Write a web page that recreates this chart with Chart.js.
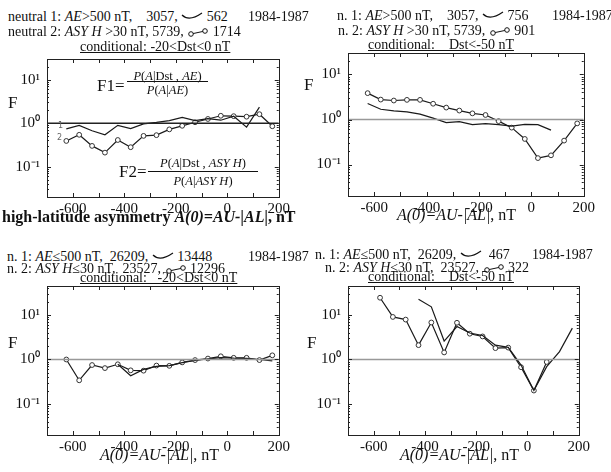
<!DOCTYPE html>
<html>
<head>
<meta charset="utf-8">
<script src="https://cdn.jsdelivr.net/npm/chart.js@4.4.1/dist/chart.umd.min.js"></script>
<style>
  body { margin: 0; width: 611px; height: 472px; background: #fff; position: relative; overflow: hidden;
         font-family: 'Liberation Serif', 'Times New Roman', serif; color: #111; }
  canvas { position: absolute; }
  .t { position: absolute; white-space: pre; font-size: 14px; line-height: 14px; }
  .u { text-decoration: underline; }
  .ax { position: absolute; white-space: pre; font-size: 16px; line-height: 16px; }
  .F { position: absolute; font-size: 17px; line-height: 17px; }
  .fr { position: absolute; font-size: 12.5px; line-height: 12px; text-align: center; white-space: pre; }
  .bar { position: absolute; height: 1px; background: #111; }
  .tag { position: absolute; font-family: 'DejaVu Sans', sans-serif; font-size: 8px; line-height: 8px; color: #666; }
  svg { vertical-align: -1px; }
</style>
</head>
<body>
<canvas id="p1" width="290" height="180" style="left:3px;top:43px"></canvas>
<canvas id="p2" width="294" height="185" style="left:304px;top:37px"></canvas>
<canvas id="p3" width="290" height="191" style="left:3px;top:270px"></canvas>
<canvas id="p4" width="289" height="191" style="left:304px;top:270px"></canvas>

<!-- panel 1 heading -->
<div class="t" style="left:8px;top:10px">neutral 1: <i>AE</i>&gt;500 nT,    3057, <svg width="22" height="10"><path d="M1 3 Q8 10 21 1" fill="none" stroke="#111" stroke-width="1.2"/></svg> 562</div>
<div class="t" style="left:248px;top:10px">1984-1987</div>
<div class="t" style="left:8px;top:25px">neutral 2: <i>ASY H</i> &gt;30 nT, 5739, <svg width="22" height="10"><line x1="4" y1="7" x2="18" y2="4" stroke="#111"/><circle cx="4" cy="7" r="2.3" fill="#fff" stroke="#111"/><circle cx="18" cy="4" r="2.3" fill="#fff" stroke="#111"/></svg> 1714</div>
<div class="t u" style="left:80px;top:40px">conditional: -20&lt;Dst&lt;0 nT</div>

<!-- panel 2 heading -->
<div class="t" style="left:337px;top:9px">n. 1: <i>AE</i>&gt;500 nT,    3057, <svg width="22" height="10"><path d="M1 3 Q8 10 21 1" fill="none" stroke="#111" stroke-width="1.2"/></svg> 756</div>
<div class="t" style="left:552px;top:9px">1984-1987</div>
<div class="t" style="left:338px;top:24px">n. 2: <i>ASY H</i> &gt;30 nT, 5739, <svg width="22" height="10"><line x1="4" y1="7" x2="18" y2="4" stroke="#111"/><circle cx="4" cy="7" r="2.3" fill="#fff" stroke="#111"/><circle cx="18" cy="4" r="2.3" fill="#fff" stroke="#111"/></svg> 901</div>
<div class="t u" style="left:368px;top:38px">conditional:    Dst&lt;-50 nT</div>

<!-- panel 3 heading -->
<div class="t" style="left:7px;top:250px">n. 1: <i>AE</i>≤500 nT,  26209, <svg width="22" height="10"><path d="M1 3 Q8 10 21 1" fill="none" stroke="#111" stroke-width="1.2"/></svg> 13448</div>
<div class="t" style="left:248px;top:250px">1984-1987</div>
<div class="t" style="left:7px;top:262px">n. 2: <i>ASY H</i>≤30 nT,  23527, <svg width="22" height="10"><line x1="4" y1="7" x2="18" y2="4" stroke="#111"/><circle cx="4" cy="7" r="2.3" fill="#fff" stroke="#111"/><circle cx="18" cy="4" r="2.3" fill="#fff" stroke="#111"/></svg> 12296</div>
<div class="t u" style="left:80px;top:271px">conditional:   -20&lt;Dst&lt;0 nT</div>

<!-- panel 4 heading -->
<div class="t" style="left:315px;top:248px">n. 1: <i>AE</i>≤500 nT,  26209, <svg width="22" height="10"><path d="M1 3 Q8 10 21 1" fill="none" stroke="#111" stroke-width="1.2"/></svg>  467</div>
<div class="t" style="left:532px;top:248px">1984-1987</div>
<div class="t" style="left:325px;top:261px">n. 2: <i>ASY H</i>≤30 nT,  23527, <svg width="22" height="10"><line x1="4" y1="7" x2="18" y2="4" stroke="#111"/><circle cx="4" cy="7" r="2.3" fill="#fff" stroke="#111"/><circle cx="18" cy="4" r="2.3" fill="#fff" stroke="#111"/></svg> 322</div>
<div class="t u" style="left:368px;top:270px">conditional:    Dst&lt;-50 nT</div>

<!-- y labels -->
<div class="F" style="left:8px;top:94px">F</div>
<div class="F" style="left:304px;top:76px">F</div>
<div class="F" style="left:8px;top:334px">F</div>
<div class="F" style="left:307px;top:334px">F</div>

<!-- x titles -->
<div class="ax" style="left:2px;top:209px;font-weight:bold">high-latitude asymmetry <i>A(0)=AU-|AL|</i>, nT</div>
<div class="ax" style="left:397px;top:207px"><i>A(0)=AU-|AL|</i>, nT</div>
<div class="ax" style="left:100px;top:447px"><i>A(0)=AU-|AL|</i>, nT</div>
<div class="ax" style="left:400px;top:447px"><i>A(0)=AU-|AL|</i>, nT</div>

<!-- formulas in panel 1 -->
<div class="F" style="left:97px;top:77px">F1=</div>
<div class="fr" style="left:125px;top:70px;width:85px"><i>P</i>(<i>A</i>|Dst , <i>AE</i>)</div>
<div class="bar" style="left:127px;top:81px;width:81px"></div>
<div class="fr" style="left:125px;top:84px;width:85px"><i>P</i>(<i>A</i>|<i>AE</i>)</div>
<div class="F" style="left:119px;top:163px">F2=</div>
<div class="fr" style="left:146px;top:157px;width:114px"><i>P</i>(<i>A</i>|Dst , <i>ASY H</i>)</div>
<div class="bar" style="left:148px;top:171px;width:110px"></div>
<div class="fr" style="left:146px;top:175px;width:114px"><i>P</i>(<i>A</i>|<i>ASY H</i>)</div>
<div class="tag" style="left:58px;top:122px">1</div>
<div class="tag" style="left:57px;top:134px">2</div>

<script>
// bin centres of A(0), nT
const xBins = [-625, -575, -525, -475, -425, -375, -325, -275, -225, -175, -125, -75, -25, 25, 75, 125, 175];
const unityX = [-700, 200];

// panel 1: -20<Dst<0, AE>500 / ASY H>30
const p1Line = [0.74, 0.89, 0.67, 0.54, 0.89, 0.75, 0.96, 1.04, 1.15, 1.36, 1.15, 1.27, 1.17, 1.45, 0.81, 2.35, null];
const p1Circ = [0.39, 0.54, 0.30, 0.21, 0.41, 0.28, 0.51, 0.53, 0.72, 0.87, 1.05, 1.25, 1.48, 1.45, 1.41, 1.61, 0.85];

// panel 2: Dst<-50, AE>500 / ASY H>30
const p2Line = [2.27, 1.69, 1.56, 1.48, 1.32, 1.07, 0.85, 0.90, 0.77, 0.81, 0.77, 0.71, 0.78, 0.77, 0.58, null, null];
const p2Circ = [3.85, 2.77, 2.64, 2.73, 2.73, 2.24, 1.84, 1.58, 1.37, 1.26, 0.92, 0.66, 0.37, 0.139, 0.16, 0.34, 0.82];

// panel 3: -20<Dst<0, AE<=500 / ASY H<=30
const p3Line = [null, null, null, null, 0.78, 0.43, 0.60, 0.70, 0.73, 0.85, 0.95, 1.03, 1.10, 1.07, 1.06, 1.00, 0.93];
const p3Circ = [1.00, 0.34, 0.75, 0.64, 0.78, 0.57, 0.56, 0.73, 0.72, 0.86, 0.97, 1.05, 1.18, 1.09, 1.09, 0.97, 1.24];

// panel 4: Dst<-50, AE<=500 / ASY H<=30
const p4Line = [null, null, null, null, 22.6, 15.3, 2.6, 5.5, 3.95, 3.46, 2.1, 1.87, 0.75, 0.20, 0.69, 1.5, 5.07];
const p4Circ = [null, 24.5, 9.06, 7.9, 2.1, 6.8, 1.44, 6.7, 3.8, 3.3, 1.8, 1.85, 0.67, 0.20, 0.88, null, null];

const serif = "'Liberation Serif', 'Times New Roman', serif";

// box round the plot plus inward ticks, as in the original figure
const frameTicks = {
  id: 'frameTicks',
  afterDraw(chart) {
    const { ctx, chartArea: a, scales: { x, y } } = chart;
    ctx.save();
    ctx.strokeStyle = '#222';
    ctx.lineWidth = 1;
    ctx.strokeRect(Math.round(a.left) + 0.5, Math.round(a.top) + 0.5,
                   Math.round(a.right - a.left), Math.round(a.bottom - a.top));
    ctx.beginPath();
    x.ticks.forEach(t => {
      const px = Math.round(x.getPixelForValue(t.value)) + 0.5;
      ctx.moveTo(px, a.top); ctx.lineTo(px, a.top + 4);
      ctx.moveTo(px, a.bottom); ctx.lineTo(px, a.bottom - 4);
    });
    for (let e = -2; e <= 1; e++) {
      for (let m = 1; m <= 9; m++) {
        const v = m * Math.pow(10, e);
        if (v < y.min || v > y.max) continue;
        const py = Math.round(y.getPixelForValue(v)) + 0.5;
        const len = m === 1 ? 4 : 2;
        ctx.moveTo(a.left, py); ctx.lineTo(a.left + len, py);
        ctx.moveTo(a.right, py); ctx.lineTo(a.right - len, py);
      }
    }
    ctx.stroke();
    ctx.restore();
  }
};

const sup = { '-1': '10⁻¹', '0': '10⁰', '1': '10¹' };

function panel(id, lineVals, circVals, yMax, unityColor) {
  const pts = vals => xBins.map((x, i) => ({ x, y: vals[i] }));
  return new Chart(document.getElementById(id), {
    type: 'line',
    data: {
      datasets: [
        { data: unityX.map(x => ({ x, y: 1 })), borderColor: unityColor, borderWidth: 1.4, pointRadius: 0 },
        { data: pts(lineVals), borderColor: '#1a1a1a', borderWidth: 1.2, pointRadius: 0 },
        { data: pts(circVals), borderColor: '#1a1a1a', borderWidth: 1.2, pointRadius: 2.4,
          pointBackgroundColor: '#fff', pointBorderColor: '#333', pointBorderWidth: 1 },
      ],
    },
    options: {
      responsive: false,
      animation: false,
      devicePixelRatio: 1,
      layout: { padding: { top: 12, right: 14, left: 0, bottom: 0 } },
      plugins: { legend: { display: false }, tooltip: { enabled: false } },
      scales: {
        x: {
          type: 'linear', min: -700, max: 200,
          grid: { display: false, drawTicks: false }, border: { display: false },
          ticks: { stepSize: 100, autoSkip: false, maxRotation: 0, padding: 3, color: '#111',
                   font: { family: serif, size: 15 },
                   callback: v => (v % 200 === 0 ? String(v) : '') },
          afterFit: s => { s.height = 26; },
        },
        y: {
          type: 'logarithmic', min: 0.02, max: yMax,
          grid: { display: false, drawTicks: false }, border: { display: false },
          ticks: { autoSkip: false, padding: 7, color: '#111', font: { family: serif, size: 15 },
                   callback: v => {
                     const e = Math.log10(v);
                     const r = Math.round(e);
                     return Math.abs(e - r) < 1e-6 && sup[r] ? sup[r] : '';
                   } },
          afterFit: s => { s.width = 44; },
        },
      },
    },
    plugins: [frameTicks],
  });
}

panel('p1', p1Line, p1Circ, 30, '#222');
panel('p2', p2Line, p2Circ, 30, '#999');
panel('p3', p3Line, p3Circ, 45, '#999');
panel('p4', p4Line, p4Circ, 45, '#999');
</script>
</body>
</html>
